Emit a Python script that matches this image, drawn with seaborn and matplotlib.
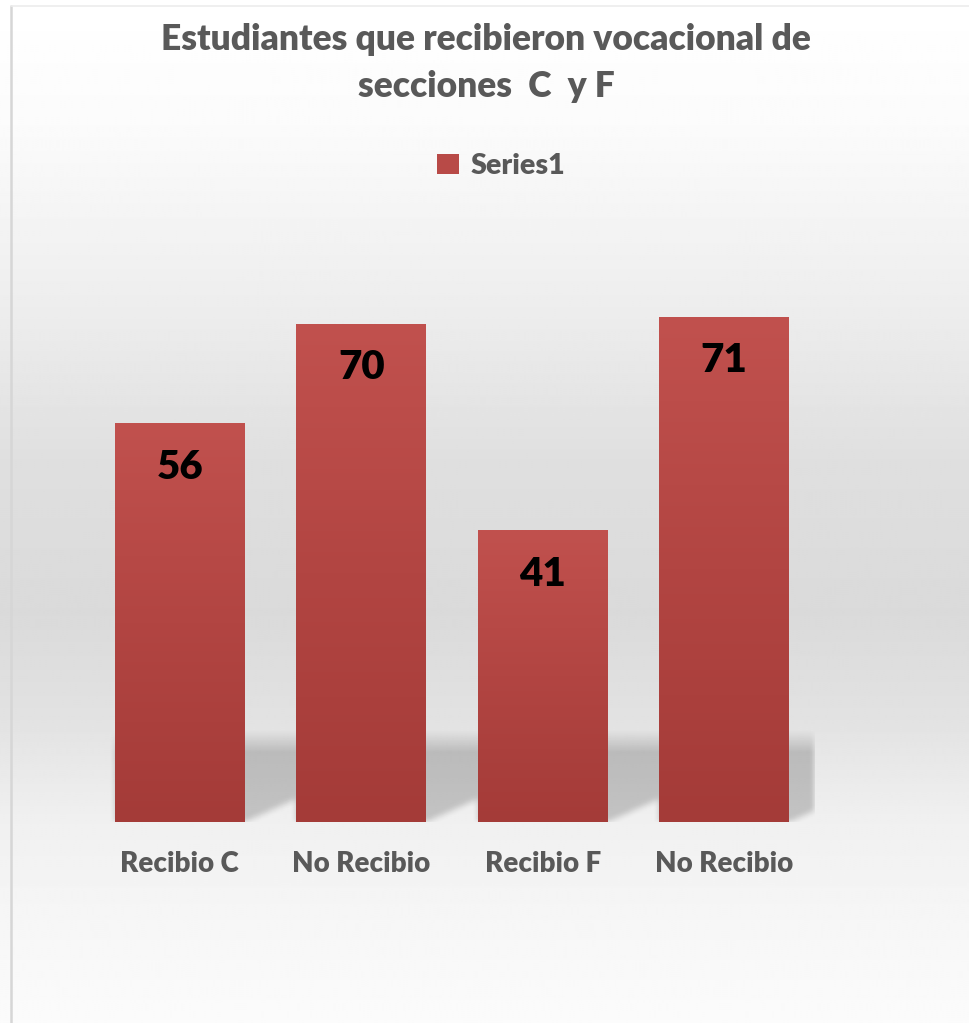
import numpy as np
import pandas as pd
import matplotlib
matplotlib.use("Agg")
import matplotlib.pyplot as plt
from matplotlib.colors import LinearSegmentedColormap
from matplotlib.patches import Patch
from matplotlib.lines import Line2D
import seaborn as sns

# ---- data ----
categories = ["Recibio C", "No Recibio", "Recibio F", "No Recibio"]
values = [56, 70, 41, 71]
series_name = "Series1"
title = "Estudiantes que recibieron vocacional de\nsecciones  C  y F"

sns.set_theme(style="white")
plt.rcParams["font.family"] = ["Lato", "DejaVu Sans"]
TEXT_WEIGHT = "heavy"

W, H, DPI = 969, 1023, 100
fig = plt.figure(figsize=(W / DPI, H / DPI), dpi=DPI)

# ---- background: vertical white-grey-white gradient ----
bg = fig.add_axes([0, 0, 1, 1], zorder=-10)
stops_pos = [0.0, 0.12, 0.30, 0.45, 0.60, 0.70, 0.80, 0.90, 1.0]
stops_val = [1.0, 0.985, 0.93, 0.875, 0.855, 0.885, 0.94, 0.965, 0.985]
yy = np.linspace(0, 1, 512)
shade = np.interp(yy, stops_pos, stops_val)
bg.imshow(np.repeat(shade[:, None], 2, axis=1), cmap="gray", vmin=0, vmax=1,
          aspect="auto", extent=(0, 1, 1, 0))
bg.set_xlim(0, 1)
bg.set_ylim(1, 0)
bg.axis("off")
# thin frame lines on the left and top
fig.add_artist(Line2D([10.5 / W, 10.5 / W], [0, 1 - 6 / H], color="#d6d6d6", lw=1.8))
fig.add_artist(Line2D([10.5 / W, 1], [1 - 6 / H, 1 - 6 / H], color="#ececec", lw=1.2))

# ---- bars ----
ax_l, ax_r, ax_t, ax_b = 89, 815, 217, 822
ax = fig.add_axes([ax_l / W, 1 - ax_b / H, (ax_r - ax_l) / W, (ax_b - ax_t) / H])
ax.set_facecolor("none")
df = pd.DataFrame({"pos": np.arange(len(values)), "value": values})
sns.barplot(data=df, x="pos", y="value", color="#c0504d", width=0.716,
            saturation=1, ax=ax, zorder=3)

xlim = (-0.5, len(values) - 0.5)
ylim = (0, 85)
ax.set_xlim(*xlim)
ax.set_ylim(*ylim)

# per-bar vertical gradient fill
bar_cmap = LinearSegmentedColormap.from_list("bar", ["#a43b38", "#b24542", "#c1514e"])
grad = np.linspace(0, 1, 256)[:, None]
for p in ax.patches:
    x0, w, h = p.get_x(), p.get_width(), p.get_height()
    im = ax.imshow(grad, cmap=bar_cmap, aspect="auto", origin="lower",
                   extent=(x0, x0 + w, 0, h), zorder=3)
    im.set_clip_path(p)
    p.set_facecolor("none")
    p.set_edgecolor("none")

# soft cast shadow behind the bottom of the bars
pw, ph = ax_r - ax_l, ax_b - ax_t
X, Y = np.meshgrid(np.arange(pw) + 0.5, np.arange(ph) + 0.5)
mask = np.zeros((ph, pw))
dx, dy = 62.0, 28.0
for p in ax.patches:
    xl = (p.get_x() - xlim[0]) / (xlim[1] - xlim[0]) * pw
    xr = (p.get_x() + p.get_width() - xlim[0]) / (xlim[1] - xlim[0]) * pw
    inside = (X >= xl) & (X <= xr + dx) & (Y <= 200)
    lower = np.where(X > xr, (X - xr) * dy / dx, 0.0)
    mask = np.maximum(mask, (inside & (Y >= lower)).astype(float))


def box_blur(a, k, axis):
    kern = np.ones(k) / k
    return np.apply_along_axis(lambda v: np.convolve(v, kern, mode="same"), axis, a)


for _ in range(2):
    mask = box_blur(mask, 7, 0)
    mask = box_blur(mask, 7, 1)
fade = np.clip((92 - Y) / 22.0, 0, 1)
alpha = mask * fade * 0.19
shadow = np.zeros((ph, pw, 4))
shadow[..., 3] = alpha
ax.imshow(shadow, origin="lower", aspect="auto",
          extent=(xlim[0], xlim[1], ylim[0], ylim[1]), zorder=1)
ax.set_xlim(*xlim)
ax.set_ylim(*ylim)

# value labels inside the bars
for p, v in zip(ax.patches, values):
    ax.annotate(f"{v}", xy=(p.get_x() + p.get_width() / 2, v),
                xytext=(0, -44), textcoords="offset pixels",
                ha="center", va="center", fontsize=29, fontweight=TEXT_WEIGHT,
                color="black", zorder=5)

# axes styling
for s in ax.spines.values():
    s.set_visible(False)
ax.set_xticks(range(len(categories)))
ax.set_xticklabels(categories, fontsize=20, fontweight=TEXT_WEIGHT, color="#595959")
ax.tick_params(axis="x", length=0, pad=21)
ax.set_yticks([])
ax.set_xlabel("")
ax.set_ylabel("")

# title
fig.text(486 / W, 1 - 63 / H, title, ha="center", va="center", fontsize=25.5,
         fontweight=TEXT_WEIGHT, color="#595959", linespacing=1.5)

# legend
handle = Patch(facecolor="#b84a47", edgecolor="none", label=series_name)
fig.legend(handles=[handle], loc="center", bbox_to_anchor=(501 / W, 1 - 166 / H),
           frameon=False, handlelength=0.75, handleheight=0.75,
           handletextpad=0.4, prop={"weight": TEXT_WEIGHT, "size": 20.5},
           labelcolor="#595959")

fig.savefig("out.png", dpi=DPI)
